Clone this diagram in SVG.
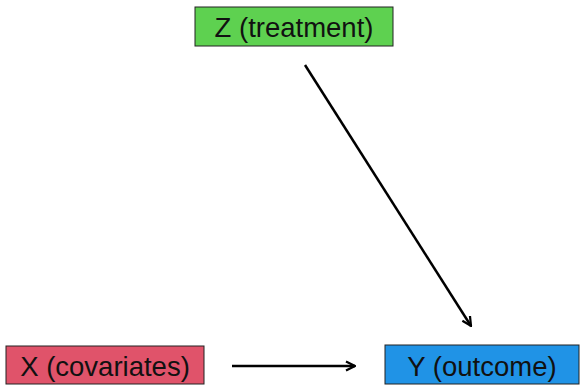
<svg xmlns="http://www.w3.org/2000/svg" width="580" height="385" viewBox="0 0 580 385">
<style>
.box{stroke:#222;stroke-width:1}
.lbl{font-family:"Liberation Sans",Arial,sans-serif;font-size:27.5px;fill:#111;text-anchor:middle}
.edge{stroke:#000;stroke-width:2.5;fill:none;marker-end:url(#arr)}
</style>
<defs>
<marker id="arr" viewBox="0 0 10 10" refX="9" refY="5" markerWidth="4.5" markerHeight="4.5" orient="auto" markerUnits="strokeWidth">
<path d="M1,1 L9,5 L1,9" fill="none" stroke="#000" stroke-width="2"/>
</marker>
</defs>
<rect width="580" height="385" fill="#fff"/>
<g id="edges">
<path class="edge" d="M305,65 L471,326"/>
<path class="edge" d="M232,366 L355,366"/>
</g>
<g id="Z">
<rect class="box" x="195" y="7" width="198" height="39" fill="#5ed150"/>
<text class="lbl" x="294" y="37">Z (treatment)</text>
</g>
<g id="X">
<rect class="box" x="6" y="346" width="198" height="38" fill="#e0536a"/>
<text class="lbl" x="105" y="376">X (covariates)</text>
</g>
<g id="Y">
<rect class="box" x="385" y="345" width="194" height="39" fill="#2093e6"/>
<text class="lbl" x="482" y="376">Y (outcome)</text>
</g>
</svg>
